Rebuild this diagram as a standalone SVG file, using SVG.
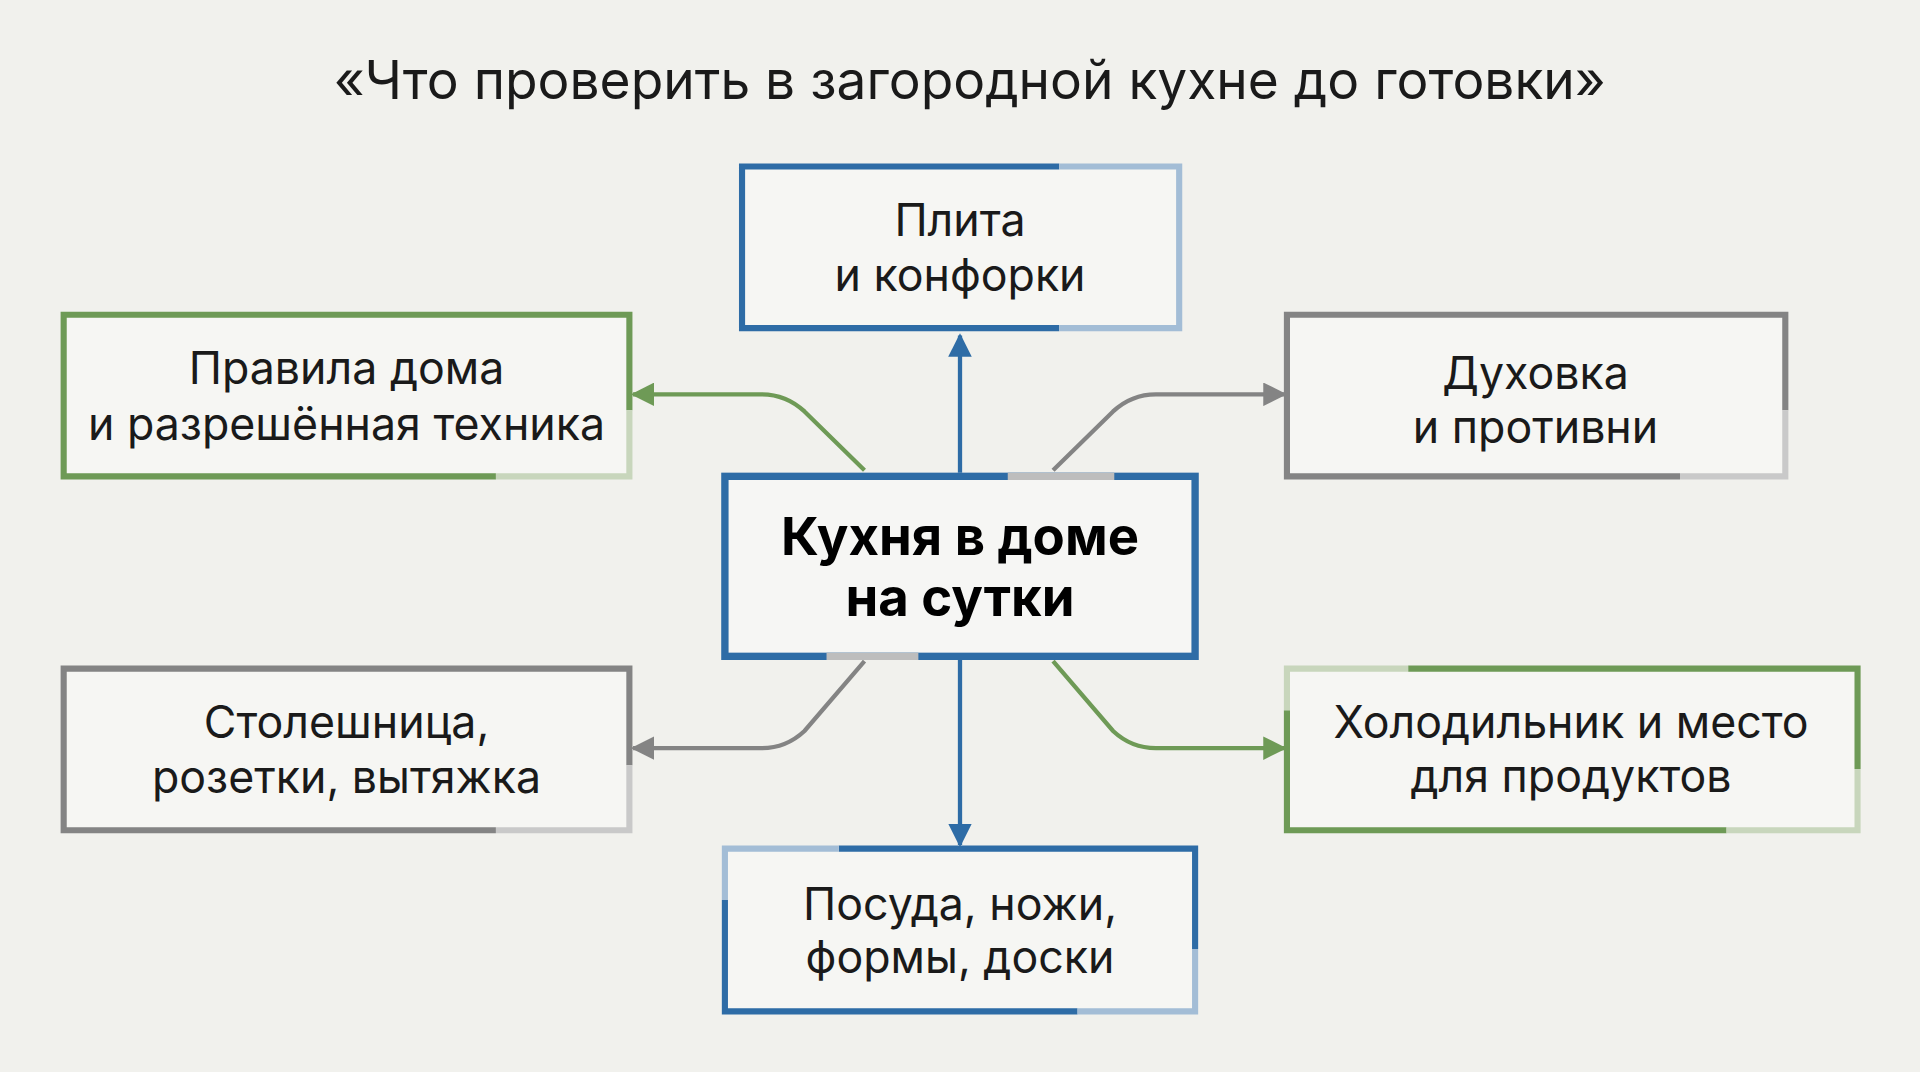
<svg xmlns="http://www.w3.org/2000/svg" width="1920" height="1072" viewBox="0 0 1920 1072">
<defs>
<style>
text{font-family:Inter,"Liberation Sans",Arial,sans-serif;fill:#1a1a1a;text-anchor:middle}
.t{font-size:36.5px}
.b{fill:#fff;fill-opacity:0.35}
.bl{stroke:#2e6ca6;stroke-width:5;fill:none}
.lb{stroke:#a3bdd6;stroke-width:5;fill:none}
.gr{stroke:#6e9a56;stroke-width:5;fill:none}
.lg{stroke:#c8d6bc;stroke-width:5;fill:none}
.gy{stroke:#848484;stroke-width:5;fill:none}
.lgy{stroke:#c9c9c9;stroke-width:5;fill:none}
.c{stroke-width:3.5;fill:none}
</style>
<marker id="ab" viewBox="0 0 10 10" refX="9" refY="5" markerWidth="5.5" markerHeight="5.5" orient="auto" markerUnits="strokeWidth"><path d="M0,0L10,5L0,10z" fill="#2e6ca6"/></marker>
<marker id="ag" viewBox="0 0 10 10" refX="9" refY="5" markerWidth="5.5" markerHeight="5.5" orient="auto" markerUnits="strokeWidth"><path d="M0,0L10,5L0,10z" fill="#6e9a56"/></marker>
<marker id="ay" viewBox="0 0 10 10" refX="9" refY="5" markerWidth="5.5" markerHeight="5.5" orient="auto" markerUnits="strokeWidth"><path d="M0,0L10,5L0,10z" fill="#848484"/></marker>
</defs>
<rect width="1920" height="1072" fill="#f1f1ed"/>
<g transform="scale(1.22449)">
<text x="792" y="81" style="font-size:43.5px">«Что проверить в загородной кухне до готовки»</text>
<g id="connectors">
<path class="c" d="M784,386 L784,274" stroke="#2e6ca6" marker-end="url(#ab)"/>
<path class="c" d="M784,539 L784,690" stroke="#2e6ca6" marker-end="url(#ab)"/>
<path class="c" d="M706,384 L657,336 Q642,322 622,322 L517,322" stroke="#6e9a56" marker-end="url(#ag)"/>
<path class="c" d="M860,384 L909,336 Q924,322 944,322 L1049,322" stroke="#848484" marker-end="url(#ay)"/>
<path class="c" d="M706,540 L657,597 Q642,611 622,611 L517,611" stroke="#848484" marker-end="url(#ay)"/>
<path class="c" d="M860,540 L909,597 Q924,611 944,611 L1049,611" stroke="#6e9a56" marker-end="url(#ag)"/>
</g>
<g id="top">
<rect class="b" x="606" y="136" width="357" height="132"/>
<path class="bl" d="M865,136 H606 V268 H865"/>
<path class="lb" d="M865,136 H963 V268 H865"/>
<text class="t" x="784" y="193">Плита</text>
<text class="t" x="784" y="238">и конфорки</text>
</g>
<g id="lefttop">
<rect class="b" x="52" y="257" width="462" height="132"/>
<path class="gr" d="M514,335 V257 H52 V389 H405"/>
<path class="lg" d="M405,389 H514 V335"/>
<text class="t" x="283" y="314">Правила дома</text>
<text class="t" x="283" y="359">и разрешённая техника</text>
</g>
<g id="righttop">
<rect class="b" x="1051" y="257" width="407" height="132"/>
<path class="gy" d="M1458,335 V257 H1051 V389 H1372"/>
<path class="lgy" d="M1372,389 H1458 V335"/>
<text class="t" x="1254" y="318">Духовка</text>
<text class="t" x="1254" y="362">и противни</text>
</g>
<g id="center">
<rect x="592" y="389" width="384" height="147" fill="#fff" fill-opacity="0.4"/>
<rect x="592" y="389" width="384" height="147" fill="none" stroke="#2e6ca6" stroke-width="6"/>
<path d="M823,389 H910" stroke="#bdbdbd" stroke-width="6"/>
<path d="M675,536 H750" stroke="#bdbdbd" stroke-width="6"/>
<text x="784" y="453" style="font-size:43px;font-weight:bold;fill:#000">Кухня в доме</text>
<text x="784" y="503" style="font-size:43px;font-weight:bold;fill:#000">на сутки</text>
</g>
<g id="leftbottom">
<rect class="b" x="52" y="546" width="462" height="132"/>
<path class="gy" d="M514,625 V546 H52 V678 H405"/>
<path class="lgy" d="M405,678 H514 V625"/>
<text class="t" x="283" y="603">Столешница,</text>
<text class="t" x="283" y="648">розетки, вытяжка</text>
</g>
<g id="rightbottom">
<rect class="b" x="1051" y="546" width="466" height="132"/>
<path class="gr" d="M1150,546 H1517 V628 M1410,678 H1051 V580"/>
<path class="lg" d="M1051,580 V546 H1150 M1517,628 V678 H1410"/>
<text class="t" x="1283" y="603">Холодильник и место</text>
<text class="t" x="1283" y="647">для продуктов</text>
</g>
<g id="bottom">
<rect class="b" x="592" y="693" width="384" height="133"/>
<path class="bl" d="M685,693 H976 V775 M880,826 H592 V735"/>
<path class="lb" d="M592,735 V693 H685 M976,775 V826 H880"/>
<text class="t" x="784" y="751">Посуда, ножи,</text>
<text class="t" x="784" y="795">формы, доски</text>
</g>
</g>
</svg>
